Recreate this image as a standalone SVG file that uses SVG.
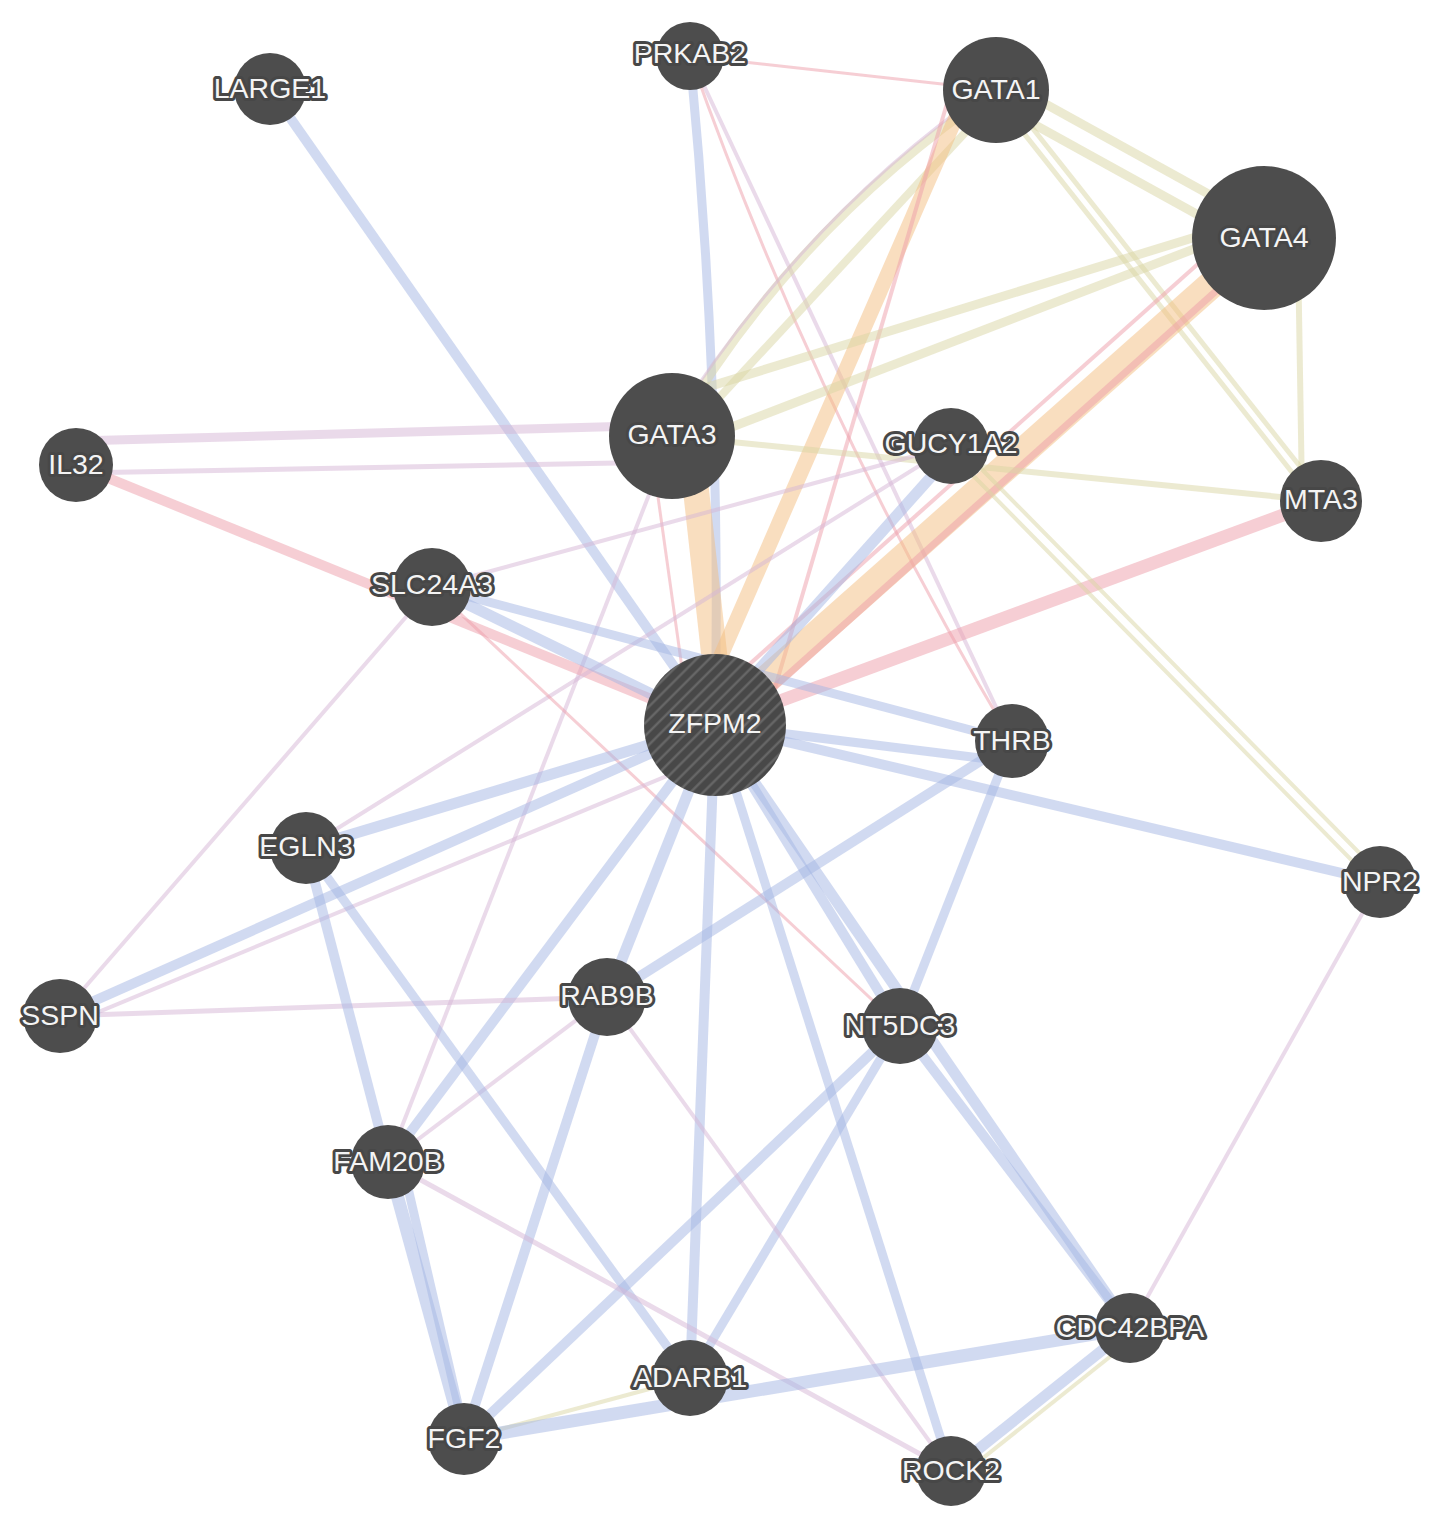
<svg xmlns="http://www.w3.org/2000/svg" width="1441" height="1525" viewBox="0 0 1441 1525">
<style>
.e{fill:none;stroke-opacity:.5}
.b{stroke:#a3b6e3}
.p{stroke:#ed9daa}
.v{stroke:#d5b6d5}
.o{stroke:#f3be7f}
.g{stroke:#d9d5a3}
.n{fill:#4d4d4d}
.t{font-family:"Liberation Sans",Arial,sans-serif;font-size:28.5px;fill:#f4f4f4;stroke:#474747;stroke-width:6;stroke-linejoin:round;paint-order:stroke;text-anchor:middle}
</style>
<defs>
<pattern id="hatch" patternUnits="userSpaceOnUse" width="9" height="9" patternTransform="rotate(45)">
<rect width="9" height="9" fill="#484848"/>
<line x1="4.5" y1="0" x2="4.5" y2="9" stroke="#6a6a6a" stroke-width="2.2"/>
</pattern>
</defs>
<rect width="1441" height="1525" fill="#ffffff"/>
<g id="edges">
<path class="e b" stroke-width="10" d="M270,89 L715,725"/>
<path class="e b" stroke-width="9" d="M690,56 Q722,390 715,725"/>
<path class="e v" stroke-width="4" d="M690,56 L1012,741"/>
<path class="e p" stroke-width="3" d="M690,56 Q815,410 1012,741"/>
<path class="e p" stroke-width="3" d="M690,56 L996,90"/>
<path class="e g" stroke-width="9" d="M1002,80 L1270,228"/>
<path class="e g" stroke-width="9" d="M990,100 L1258,248"/>
<path class="e g" stroke-width="5" d="M992,93 L1317,504"/>
<path class="e g" stroke-width="5" d="M1000,87 L1325,498"/>
<path class="e g" stroke-width="9" d="M996,90 Q790,230 672,436"/>
<path class="e g" stroke-width="8" d="M1000,95 L680,440"/>
<path class="e v" stroke-width="3" d="M990,88 Q805,215 668,430"/>
<path class="e o" stroke-width="15" d="M968,90 L692,722"/>
<path class="e p" stroke-width="4" d="M948,100 L765,722"/>
<path class="e g" stroke-width="9" d="M1264,216 L672,398"/>
<path class="e g" stroke-width="9" d="M1264,222 L672,450"/>
<path class="e o" stroke-width="28" d="M1264,238 L715,725"/>
<path class="e p" stroke-width="7" d="M1264,248 L722,734"/>
<path class="e p" stroke-width="4" d="M1264,205 L715,695"/>
<path class="e g" stroke-width="6" d="M1298,250 L1302,495"/>
<path class="e p" stroke-width="13" d="M1321,501 L715,725"/>
<path class="e g" stroke-width="6" d="M672,436 L1321,501"/>
<path class="e g" stroke-width="4" d="M948,450 L1377,886"/>
<path class="e g" stroke-width="4" d="M955,442 L1384,878"/>
<path class="e o" stroke-width="26" d="M690,436 L722,725"/>
<path class="e p" stroke-width="3" d="M650,440 L690,725"/>
<path class="e v" stroke-width="4" d="M672,436 L388,1162"/>
<path class="e v" stroke-width="9" d="M76,441 L672,425"/>
<path class="e v" stroke-width="5" d="M76,473 L672,462"/>
<path class="e p" stroke-width="10" d="M76,465 L715,725"/>
<path class="e b" stroke-width="11" d="M955,450 L712,722"/>
<path class="e v" stroke-width="4" d="M432,587 L951,446"/>
<path class="e v" stroke-width="4" d="M306,848 L951,446"/>
<path class="e b" stroke-width="11" d="M432,587 L715,725"/>
<path class="e b" stroke-width="9" d="M432,587 L1012,741"/>
<path class="e v" stroke-width="4" d="M432,587 L60,1016"/>
<path class="e p" stroke-width="3" d="M432,587 L900,1026"/>
<path class="e b" stroke-width="9" d="M715,725 L1012,762"/>
<path class="e b" stroke-width="10" d="M715,725 L1380,882"/>
<path class="e b" stroke-width="9" d="M1012,741 L900,1026"/>
<path class="e b" stroke-width="10" d="M607,997 L1012,741"/>
<path class="e b" stroke-width="11" d="M306,848 L715,725"/>
<path class="e b" stroke-width="10" d="M60,1016 L715,725"/>
<path class="e v" stroke-width="4" d="M60,1028 L715,756"/>
<path class="e b" stroke-width="11" d="M607,997 L715,725"/>
<path class="e b" stroke-width="10" d="M388,1162 L715,725"/>
<path class="e b" stroke-width="10" d="M690,1378 L715,725"/>
<path class="e b" stroke-width="10" d="M715,725 L900,1026"/>
<path class="e b" stroke-width="11" d="M715,725 L1130,1328"/>
<path class="e b" stroke-width="9" d="M715,725 L951,1471"/>
<path class="e b" stroke-width="10" d="M900,1026 L1130,1328"/>
<path class="e b" stroke-width="10" d="M900,1026 L464,1439"/>
<path class="e b" stroke-width="9" d="M900,1026 L690,1378"/>
<path class="e b" stroke-width="10" d="M607,997 L464,1439"/>
<path class="e v" stroke-width="5" d="M607,997 L60,1016"/>
<path class="e v" stroke-width="4" d="M607,997 L388,1162"/>
<path class="e v" stroke-width="4" d="M607,997 L951,1471"/>
<path class="e b" stroke-width="10" d="M306,848 L388,1162"/>
<path class="e b" stroke-width="9" d="M306,848 L690,1378"/>
<path class="e b" stroke-width="13" d="M388,1162 L464,1439"/>
<path class="e b" stroke-width="9" d="M402,1162 L466,1439"/>
<path class="e v" stroke-width="5" d="M388,1162 L951,1471"/>
<path class="e g" stroke-width="4" d="M464,1439 L690,1378"/>
<path class="e b" stroke-width="13" d="M464,1439 L1130,1328"/>
<path class="e b" stroke-width="11" d="M951,1471 L1130,1328"/>
<path class="e g" stroke-width="4" d="M958,1478 L1136,1336"/>
<path class="e v" stroke-width="4" d="M1380,882 L1130,1328"/>
</g>
<g id="n-LARGE1"><circle class="n" cx="270" cy="89" r="36"/><text class="t" x="270" y="98">LARGE1</text></g>
<g id="n-PRKAB2"><circle class="n" cx="690" cy="56" r="34"/><text class="t" x="690" y="63">PRKAB2</text></g>
<g id="n-GATA1"><circle class="n" cx="996" cy="90" r="53"/><text class="t" x="996" y="99">GATA1</text></g>
<g id="n-GATA4"><circle class="n" cx="1264" cy="238" r="72"/><text class="t" x="1264" y="247">GATA4</text></g>
<g id="n-GATA3"><circle class="n" cx="672" cy="436" r="63"/><text class="t" x="672" y="444">GATA3</text></g>
<g id="n-IL32"><circle class="n" cx="76" cy="465" r="37"/><text class="t" x="76" y="474">IL32</text></g>
<g id="n-GUCY1A2"><circle class="n" cx="951" cy="446" r="38"/><text class="t" x="951" y="453">GUCY1A2</text></g>
<g id="n-MTA3"><circle class="n" cx="1321" cy="501" r="41"/><text class="t" x="1321" y="509">MTA3</text></g>
<g id="n-SLC24A3"><circle class="n" cx="432" cy="587" r="39"/><text class="t" x="432" y="594">SLC24A3</text></g>
<g id="n-ZFPM2"><circle cx="715" cy="725" r="71" fill="url(#hatch)"/><text class="t" x="715" y="733" style="stroke:none">ZFPM2</text></g>
<g id="n-THRB"><circle class="n" cx="1012" cy="741" r="37"/><text class="t" x="1012" y="750">THRB</text></g>
<g id="n-EGLN3"><circle class="n" cx="306" cy="848" r="36"/><text class="t" x="306" y="856">EGLN3</text></g>
<g id="n-NPR2"><circle class="n" cx="1380" cy="882" r="36"/><text class="t" x="1380" y="891">NPR2</text></g>
<g id="n-SSPN"><circle class="n" cx="60" cy="1016" r="37"/><text class="t" x="60" y="1025">SSPN</text></g>
<g id="n-RAB9B"><circle class="n" cx="607" cy="997" r="39"/><text class="t" x="607" y="1005">RAB9B</text></g>
<g id="n-NT5DC3"><circle class="n" cx="900" cy="1026" r="38"/><text class="t" x="900" y="1035">NT5DC3</text></g>
<g id="n-FAM20B"><circle class="n" cx="388" cy="1162" r="37"/><text class="t" x="388" y="1171">FAM20B</text></g>
<g id="n-CDC42BPA"><circle class="n" cx="1130" cy="1328" r="35"/><text class="t" x="1130" y="1337">CDC42BPA</text></g>
<g id="n-ADARB1"><circle class="n" cx="690" cy="1378" r="38"/><text class="t" x="690" y="1387">ADARB1</text></g>
<g id="n-FGF2"><circle class="n" cx="464" cy="1439" r="36"/><text class="t" x="464" y="1448">FGF2</text></g>
<g id="n-ROCK2"><circle class="n" cx="951" cy="1471" r="35"/><text class="t" x="951" y="1480">ROCK2</text></g>
</svg>
